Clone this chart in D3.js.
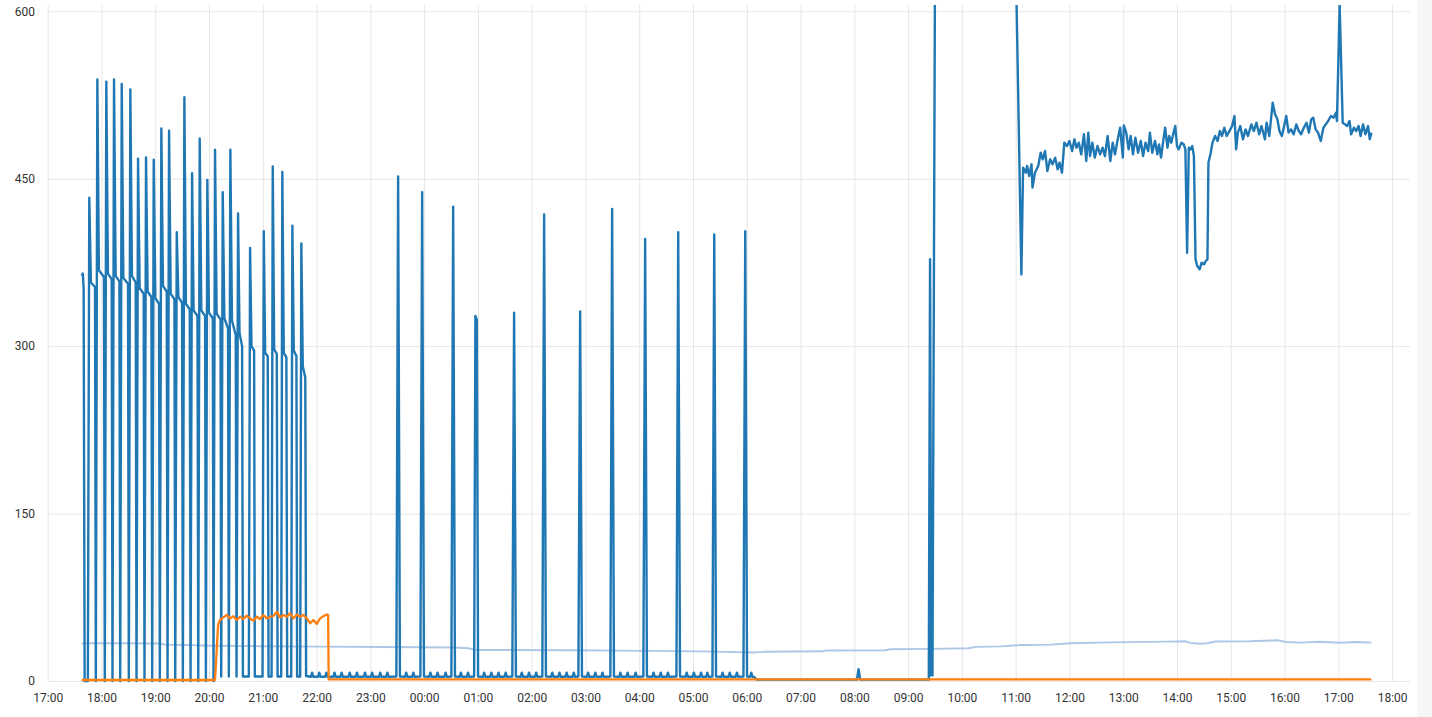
<!DOCTYPE html>
<html>
<head>
<meta charset="utf-8">
<script src="https://cdn.jsdelivr.net/npm/d3@7"></script>
<style>
  body { margin: 0; background: #fff; }
  text { font-family: Roboto, 'Open Sans', sans-serif; }
</style>
</head>
<body>
<script>
// time in minutes after 17:00, value
const blueSeries = [
	[37.9, 363], [39.2, 365], [40.1, 352], [41.2, 0],
	[44.8, 0], [46.4, 433], [48.2, 357], [52.8, 353],
	[53.7, 0], [55.4, 539], [57.1, 368], [62.8, 362],
	[63.7, 0], [65.4, 537], [67.2, 365], [71.4, 360],
	[72.3, 0], [74.0, 539], [75.8, 363], [80.0, 358],
	[80.9, 0], [82.6, 535], [84.4, 361], [89.6, 356],
	[90.5, 0], [92.2, 530], [94.0, 363], [98.2, 357],
	[99.1, 0], [100.8, 468], [102.6, 352], [107.1, 347],
	[108.0, 0], [109.7, 469], [111.5, 349], [115.7, 344],
	[116.6, 0], [118.3, 467], [120.1, 343], [124.2, 338],
	[125.1, 0], [126.8, 495], [128.6, 354], [132.8, 349],
	[133.7, 0], [135.4, 493], [137.2, 347], [141.4, 342],
	[142.3, 0], [144.0, 402], [145.8, 344], [149.9, 339],
	[150.8, 0], [152.5, 523], [154.2, 338], [158.5, 333],
	[159.4, 0], [161.1, 455], [162.8, 332], [167.1, 327],
	[168.0, 0], [169.6, 486], [171.4, 332], [175.6, 327],
	[176.5, 0], [178.1, 449], [179.9, 330], [184.2, 325],
	[185.0, 0], [186.7, 476], [188.5, 329], [192.8, 324],
	[193.6, 4], [195.3, 438], [197.1, 325], [201.2, 316],
	[202.1, 4], [203.8, 476], [205.6, 323], [209.8, 310],
	[210.7, 4], [212.4, 419], [214.0, 312], [216.9, 300], [217.8, 4],
	[224.4, 4], [225.8, 388], [227.4, 300], [230.3, 296], [231.1, 4],
	[239.7, 4], [241.1, 403], [242.6, 294], [245.5, 291], [246.4, 4],
	[249.8, 4], [251.1, 461], [252.7, 297], [255.6, 293], [256.5, 4],
	[260.5, 4], [261.8, 456], [263.4, 294], [266.3, 290], [267.2, 4],
	[271.7, 4], [273.0, 408], [274.6, 296], [277.5, 291], [278.3, 4],
	[281.7, 4], [283.0, 392], [284.6, 282], [287.4, 272], [288.3, 4.5],
	[293.7, 3.8], [295, 7.5], [296.3, 3.8], [301.7, 3.8], [303, 7.5], [304.3, 3.8],
	[309.7, 3.8], [311, 7.5], [312.3, 3.8], [318.7, 3.8], [320, 7.5], [321.3, 3.8],
	[326.7, 3.8], [328, 7.5], [329.3, 3.8], [335.7, 3.8], [337, 7.5], [338.3, 3.8],
	[343.7, 3.8], [345, 7.5], [346.3, 3.8], [352.7, 3.8], [354, 7.5], [355.3, 3.8],
	[360.7, 3.8], [362, 7.5], [363.3, 3.8], [369.7, 3.8], [371, 7.5], [372.3, 3.8],
	[377.7, 3.8], [379, 7.5], [380.3, 3.8],
	[389, 4], [391, 452], [393, 4],
	[398.7, 3.8], [400, 7.5], [401.3, 3.8], [406.7, 3.8], [408, 7.5], [409.3, 3.8],
	[415.8, 4], [417.8, 438], [419.8, 4],
	[425.7, 3.8], [427, 7.5], [428.3, 3.8], [433.7, 3.8], [435, 7.5], [436.3, 3.8],
	[442.7, 3.8], [444, 7.5], [445.3, 3.8],
	[450.4, 4], [452.4, 425], [454.4, 4],
	[459.7, 3.8], [461, 7.5], [462.3, 3.8], [467.7, 3.8], [469, 7.5], [470.3, 3.8],
	[475.8, 4], [477.2, 327], [478.8, 324], [480.2, 4],
	[485.7, 3.8], [487, 7.5], [488.3, 3.8], [493.7, 3.8], [495, 7.5], [496.3, 3.8],
	[501.7, 3.8], [503, 7.5], [504.3, 3.8], [509.7, 3.8], [511, 7.5], [512.3, 3.8],
	[518.4, 4], [520.4, 330], [522.4, 4],
	[527.7, 3.8], [529, 7.5], [530.3, 3.8], [535.7, 3.8], [537, 7.5], [538.3, 3.8],
	[543.7, 3.8], [545, 7.5], [546.3, 3.8],
	[551.9, 4], [553.9, 418], [555.9, 4],
	[561.7, 3.8], [563, 7.5], [564.3, 3.8], [569.7, 3.8], [571, 7.5], [572.3, 3.8],
	[577.7, 3.8], [579, 7.5], [580.3, 3.8], [585.7, 3.8], [587, 7.5], [588.3, 3.8],
	[592.1, 4], [594.1, 331], [596.1, 4],
	[601.7, 3.8], [603, 7.5], [604.3, 3.8], [609.7, 3.8], [611, 7.5], [612.3, 3.8],
	[617.7, 3.8], [619, 7.5], [620.3, 3.8],
	[627.8, 4], [629.8, 423], [631.8, 4],
	[637.7, 3.8], [639, 7.5], [640.3, 3.8], [645.7, 3.8], [647, 7.5], [648.3, 3.8],
	[654.7, 3.8], [656, 7.5], [657.3, 3.8],
	[664.6, 4], [666.6, 396], [668.6, 4],
	[674.7, 3.8], [676, 7.5], [677.3, 3.8], [682.7, 3.8], [684, 7.5], [685.3, 3.8],
	[690.7, 3.8], [692, 7.5], [693.3, 3.8],
	[701.5, 4], [703.5, 402], [705.5, 4],
	[711.7, 3.8], [713, 7.5], [714.3, 3.8], [719.7, 3.8], [721, 7.5], [722.3, 3.8],
	[727.7, 3.8], [729, 7.5], [730.3, 3.8], [734.7, 3.8], [736, 7.5], [737.3, 3.8],
	[741.7, 4], [743.7, 400], [745.7, 4],
	[751.7, 3.8], [753, 7.5], [754.3, 3.8], [759.7, 3.8], [761, 7.5], [762.3, 3.8],
	[767.7, 3.8], [769, 7.5], [770.3, 3.8],
	[776.3, 4], [778.3, 403], [780.3, 4],
	[783.7, 3.8], [785, 7.5], [786.3, 3.8], [788, 3.8], [791, 1.2],
	[902.9, 1.2], [904.7, 10.5], [906.6, 1.2],
	[983.1, 1.2], [984.5, 378], [985.8, 5], [987.2, 5], [990.2, 680], [1079.4, 680],
	[1086.4, 364.3], [1088.3, 459.9], [1091.3, 455.4], [1092.8, 461.4], [1095.1, 452.4],
	[1097.7, 462.9], [1098.8, 442.0], [1101.5, 455.4], [1105.2, 461.4], [1107.9, 473.3],
	[1110.2, 467.4], [1112.8, 474.8], [1115.4, 456.9], [1118.5, 467.4], [1121.1, 462.9],
	[1124.1, 468.9], [1126.8, 458.4], [1129.0, 464.4], [1131.7, 455.4], [1134.3, 482.3],
	[1137.3, 479.3], [1140.0, 483.8], [1143.0, 474.8], [1145.6, 485.3], [1147.9, 477.8],
	[1150.5, 482.3], [1153.2, 471.8], [1156.2, 489.8], [1158.8, 465.9], [1161.1, 491.3],
	[1163.0, 470.3], [1165.6, 482.3], [1168.3, 468.9], [1171.3, 479.3], [1174.3, 471.8],
	[1177.0, 477.8], [1179.6, 470.3], [1182.6, 488.3], [1185.6, 465.9], [1188.3, 482.3],
	[1190.9, 471.8], [1193.9, 485.3], [1196.6, 495.7], [1199.6, 468.9], [1200.7, 497.8],
	[1203.4, 491.3], [1206.0, 476.3], [1208.3, 488.3], [1210.9, 471.8], [1213.6, 486.8],
	[1216.6, 473.3], [1219.6, 483.8], [1222.2, 470.3], [1224.9, 482.3], [1227.9, 474.8],
	[1229.8, 491.3], [1232.4, 473.3], [1235.5, 483.8], [1238.1, 471.8], [1240.0, 480.8],
	[1242.2, 468.9], [1244.9, 485.3], [1246.8, 495.7], [1249.4, 477.8], [1251.3, 488.3],
	[1253.6, 482.3], [1256.2, 491.3], [1258.1, 497.2], [1260.0, 479.3], [1261.9, 476.3],
	[1264.9, 482.3], [1267.5, 480.8], [1269.4, 476.3], [1271.3, 383.7], [1273.2, 477.8],
	[1275.1, 476.3], [1277.0, 479.3], [1278.9, 470.3], [1280.7, 377.8], [1282.6, 371.8],
	[1285.3, 368.8], [1287.5, 374.8], [1290.2, 373.3], [1292.1, 376.3], [1294.0, 377.8],
	[1295.1, 464.4], [1297.7, 473.3], [1299.6, 482.3], [1302.6, 488.3], [1305.3, 483.8],
	[1307.9, 492.7], [1310.2, 488.3], [1312.8, 495.7], [1315.5, 488.3], [1318.5, 492.7],
	[1321.5, 497.2], [1324.1, 506.2], [1326.0, 476.3], [1327.9, 491.3], [1330.6, 497.2],
	[1333.6, 485.3], [1336.6, 494.2], [1339.2, 488.3], [1343.0, 498.7], [1345.7, 492.7],
	[1348.7, 500.2], [1351.7, 489.8], [1354.3, 497.2], [1358.1, 485.3], [1360.0, 500.2],
	[1363.0, 488.3], [1366.8, 518.1], [1369.4, 507.7], [1372.1, 503.2], [1374.3, 492.7],
	[1377.0, 488.3], [1379.6, 497.2], [1381.9, 506.2], [1384.5, 491.3], [1387.2, 494.2],
	[1390.2, 489.8], [1393.2, 498.7], [1395.9, 492.7], [1398.5, 489.8], [1401.5, 495.7],
	[1404.5, 500.2], [1407.2, 491.3], [1409.8, 503.2], [1412.1, 504.7], [1414.7, 494.2],
	[1417.4, 491.3], [1420.4, 483.8], [1423.4, 495.7], [1426.0, 498.7], [1428.7, 501.7],
	[1431.7, 506.2], [1434.7, 504.7], [1437.4, 509.2], [1438.5, 501.7], [1441.5, 606],
	[1444.9, 500.2], [1447.5, 498.7], [1449.8, 497.2], [1452.5, 501.7], [1454.3, 489.8],
	[1457.4, 495.7], [1460.0, 492.7], [1462.6, 497.2], [1464.9, 488.3], [1467.6, 498.7],
	[1470.2, 489.8], [1473.2, 497.2], [1475.1, 485.3], [1477.0, 491.3]
];

const orangeSeries = [
	[37.9, 0.9], [186.7, 0.9], [190.1, 50], [192.3, 54.7], [196.0, 57.0], [199.8, 59.1],
	[203.5, 56.1], [207.2, 58.0], [211.0, 54.7], [214.6, 57.6], [218.3, 55.5], [222.1, 58.6],
	[225.8, 56.1], [229.5, 54.0], [233.3, 57.6], [236.9, 55.5], [240.6, 59.1], [244.4, 56.1],
	[248.1, 57.6], [251.8, 58.1], [255.6, 62.1], [259.3, 57.0], [263.0, 59.1], [266.7, 57.6],
	[270.4, 60.6], [274.1, 56.1], [277.9, 59.6], [281.6, 57.6], [285.3, 59.1], [289.1, 56.1],
	[292.8, 51.7], [296.5, 54.7], [300.2, 51.1], [303.9, 56.1], [307.7, 58.1], [311.4, 59.6],
	[312.9, 59], [313.5, 1.5], [1477.0, 1.5]
];

const lightSeries = [
	[37.9, 33.8], [80.7, 33.8], [125.3, 33.6], [130.9, 32.6], [186.7, 31.6], [236.9, 31.2],
	[303.9, 30.8], [376.5, 30.5], [454.6, 30.0], [469.1, 29.3], [478.0, 27.8], [588.5, 27.6],
	[638.7, 27.2], [728.0, 26.5], [789.4, 25.6], [800.6, 26.2], [864.2, 26.6], [868.6, 27.3],
	[934.5, 27.6], [940.1, 28.4], [984.7, 28.8], [1027.2, 29.3], [1035.0, 30.6], [1062.9, 31.0],
	[1085.2, 32.2], [1118.7, 32.6], [1141.0, 33.8], [1185.6, 34.6], [1249.3, 35.3], [1269.3, 35.6],
	[1274.9, 34.2], [1286.1, 33.4], [1293.9, 33.8], [1302.9, 35.4], [1341.9, 35.6], [1372.0, 36.5],
	[1380.9, 35.0], [1397.7, 34.4], [1420.0, 35.2], [1442.3, 34.3], [1459.0, 35.0], [1477.0, 34.4]
];

const yTicks = [0, 150, 300, 450, 600];
const domainMinutes = [0, 1520]; // 17:00 .. 18:20 next day

const width = 1432;
const height = 717;
const margins = { l: 47.7, r: 22, t: 5, b: 36 };

const base = new Date(2024, 0, 1, 17, 0, 0);
const toDate = m => new Date(base.getTime() + m * 60000);

const svg = d3.select('body').append('svg')
	.attr('width', width)
	.attr('height', height);

// light panel at the right edge
svg.append('rect')
	.attr('x', 1417).attr('y', 0)
	.attr('width', width - 1417).attr('height', height)
	.attr('fill', '#f6f6f6');

const xScale = d3.scaleTime()
	.domain(domainMinutes.map(toDate))
	.range([margins.l, width - margins.r]);

const yScale = d3.scaleLinear()
	.domain([0, 600])
	.range([681, 11.3]);

const hourTicks = xScale.ticks(d3.timeHour.every(1));

// grid
svg.append('g')
	.attr('class', 'xgrid')
	.attr('transform', `translate(0, 681)`)
	.call(d3.axisBottom(xScale).tickValues(hourTicks).tickSize(-(681 - margins.t)).tickFormat(''))
	.call(g => g.select('.domain').remove())
	.call(g => g.selectAll('line').attr('stroke', '#e6e6e6'));

svg.append('g')
	.attr('class', 'ygrid')
	.attr('transform', `translate(${margins.l}, 0)`)
	.call(d3.axisLeft(yScale).tickValues(yTicks).tickSize(-(width - margins.r - margins.l)).tickFormat(''))
	.call(g => g.select('.domain').remove())
	.call(g => g.selectAll('line').attr('stroke', '#e6e6e6'));

// axis labels
svg.append('g')
	.attr('class', 'xaxisg')
	.attr('transform', `translate(0, 681)`)
	.call(d3.axisBottom(xScale).tickValues(hourTicks).tickSize(0).tickPadding(12).tickFormat(d3.timeFormat('%H:%M')))
	.call(g => g.select('.domain').remove())
	.call(g => g.selectAll('text').attr('fill', '#333').style('font-size', '12px'));

svg.append('g')
	.attr('class', 'yaxisg')
	.attr('transform', `translate(${margins.l}, 0)`)
	.call(d3.axisLeft(yScale).tickValues(yTicks).tickSize(0).tickPadding(12.7))
	.call(g => g.select('.domain').remove())
	.call(g => g.selectAll('text').attr('fill', '#333').style('font-size', '12px'));

svg.append('clipPath')
	.attr('id', 'plotclip')
	.append('rect')
	.attr('x', margins.l).attr('y', margins.t)
	.attr('width', width - margins.r - margins.l)
	.attr('height', 681 - margins.t + 4);

const line = d3.line()
	.x(d => xScale(toDate(d[0])))
	.y(d => yScale(d[1]));

const plotg = svg.append('g').attr('clip-path', 'url(#plotclip)');

const series = [
	{ data: lightSeries, color: '#aec7e8', w: 1.9 },
	{ data: blueSeries, color: '#1f77b4', w: 2.4 },
	{ data: orangeSeries, color: '#ff7f0e', w: 2.3 },
];

plotg.selectAll('path')
	.data(series)
	.join('path')
	.attr('d', d => line(d.data))
	.style('fill', 'none')
	.style('stroke', d => d.color)
	.style('stroke-width', d => d.w)
	.style('stroke-linejoin', 'round');
</script>
</body>
</html>
